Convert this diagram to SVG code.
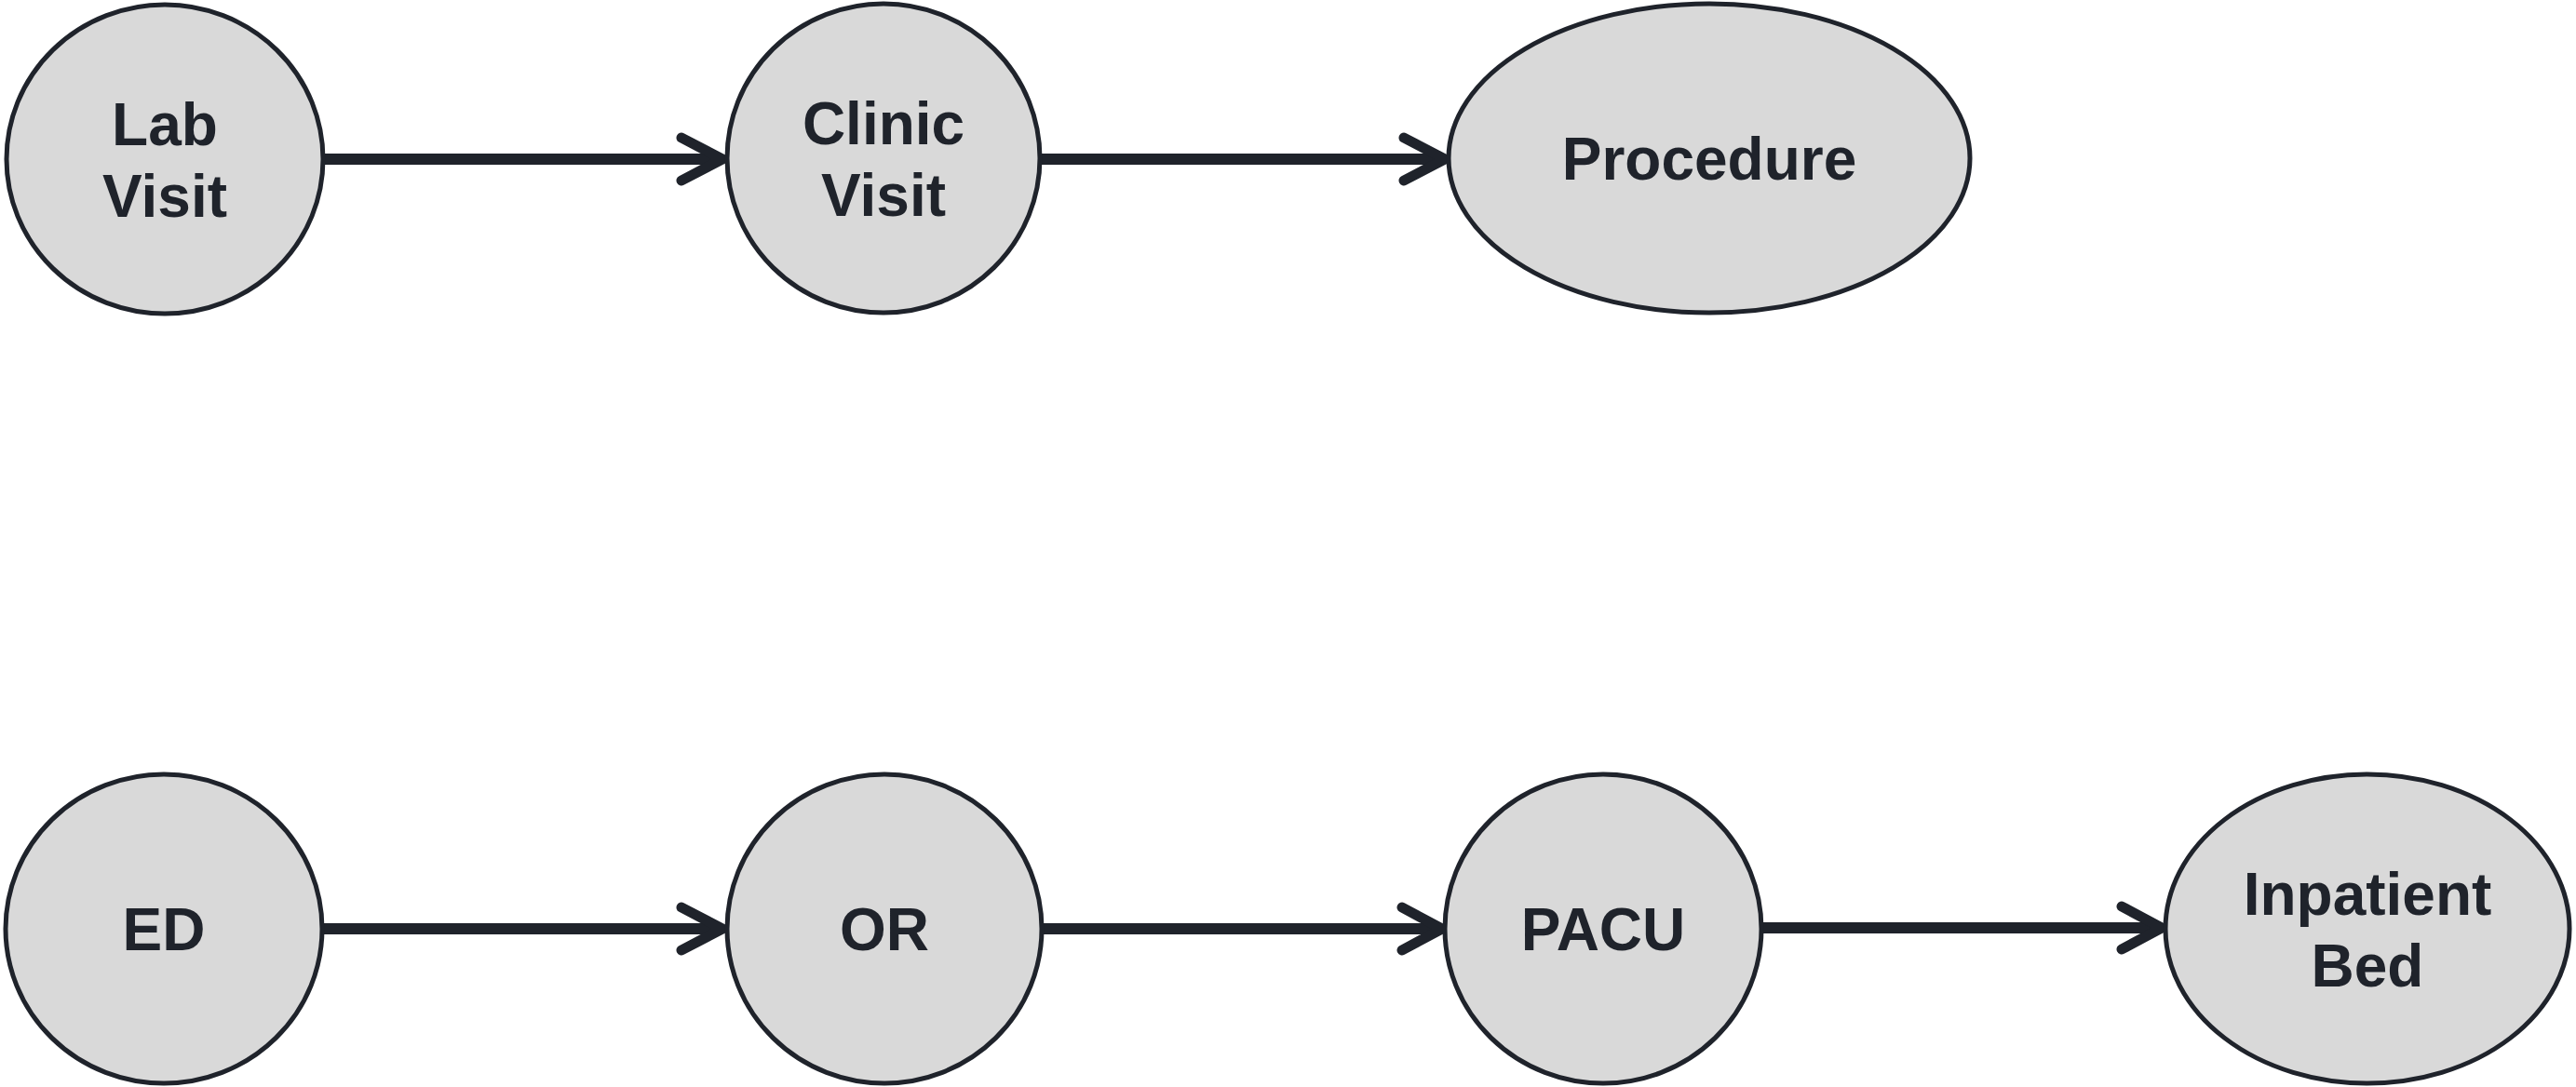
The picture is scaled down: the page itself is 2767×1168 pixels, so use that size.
<svg xmlns="http://www.w3.org/2000/svg" width="2767" height="1168" viewBox="0 0 2767 1168">
  <style>
    .node ellipse { fill: #d9d9d9; stroke: #1f232b; stroke-width: 5; }
    .node text { font-family: "Liberation Sans", Arial, sans-serif; font-weight: bold; font-size: 64px; fill: #1f232b; text-anchor: middle; }
    .edge { stroke: #1f232b; stroke-width: 12; fill: none; }
    .head { stroke: #1f232b; stroke-width: 11; fill: none; stroke-linecap: round; stroke-linejoin: miter; }
  </style>
  <rect width="2767" height="1168" fill="#ffffff"/>

  <!-- connectors -->
  <g id="connectors">
    <line class="edge" x1="347" y1="171" x2="774" y2="171"/>
    <polyline class="head" points="732,148 776,171 732,194"/>
    <line class="edge" x1="1116" y1="171" x2="1552" y2="171"/>
    <polyline class="head" points="1508,148 1552,171 1508,194"/>
    <line class="edge" x1="346" y1="998" x2="776" y2="998"/>
    <polyline class="head" points="732,975 776,998 732,1021"/>
    <line class="edge" x1="1119" y1="998" x2="1549" y2="998"/>
    <polyline class="head" points="1506,975 1549,998 1506,1021"/>
    <line class="edge" x1="1892" y1="997" x2="2322" y2="997"/>
    <polyline class="head" points="2279,974 2322,997 2279,1020"/>
  </g>

  <!-- top row -->
  <g id="lab-visit" class="node">
    <ellipse cx="177" cy="171" rx="170" ry="166"/>
    <text x="177" y="156">Lab</text>
    <text x="177" y="233">Visit</text>
  </g>
  <g id="clinic-visit" class="node">
    <ellipse cx="949" cy="170" rx="168" ry="166"/>
    <text x="949" y="155">Clinic</text>
    <text x="949" y="232">Visit</text>
  </g>
  <g id="procedure" class="node">
    <ellipse cx="1836" cy="170" rx="280" ry="166"/>
    <text x="1836" y="193">Procedure</text>
  </g>

  <!-- bottom row -->
  <g id="ed" class="node">
    <ellipse cx="176" cy="998" rx="170" ry="166"/>
    <text x="176" y="1021">ED</text>
  </g>
  <g id="or" class="node">
    <ellipse cx="950" cy="998" rx="169" ry="166"/>
    <text x="950" y="1021">OR</text>
  </g>
  <g id="pacu" class="node">
    <ellipse cx="1722" cy="998" rx="170" ry="166"/>
    <text x="1722" y="1021">PACU</text>
  </g>
  <g id="inpatient-bed" class="node">
    <ellipse cx="2543" cy="998" rx="217" ry="166"/>
    <text x="2543" y="983">Inpatient</text>
    <text x="2543" y="1060">Bed</text>
  </g>
</svg>
